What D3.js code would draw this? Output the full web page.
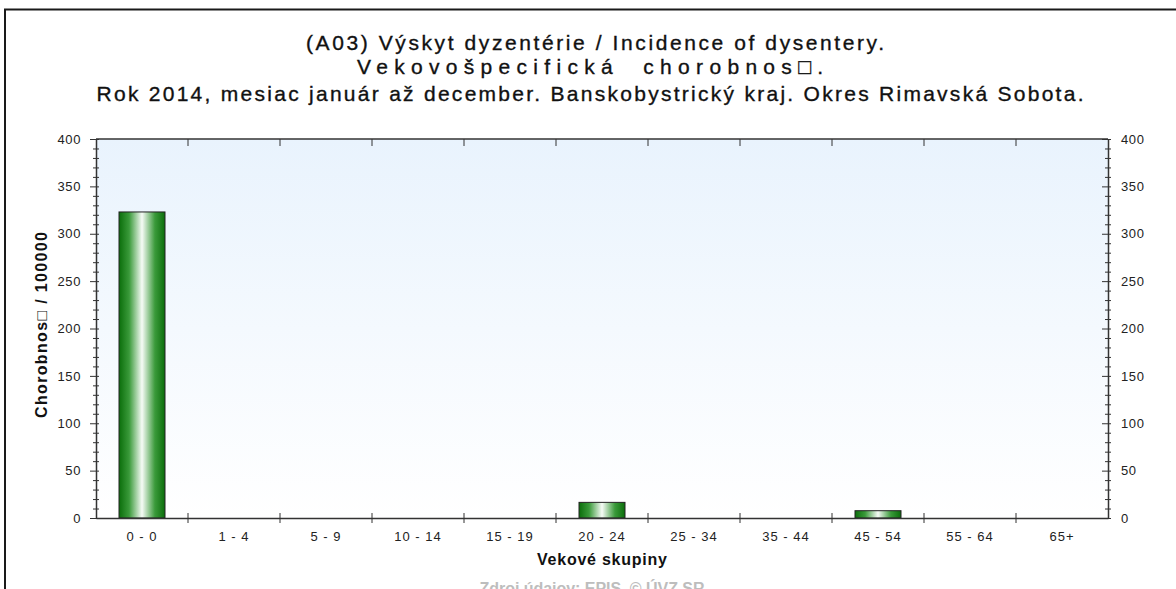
<!DOCTYPE html>
<html>
<head>
<meta charset="utf-8">
<script src="https://cdn.jsdelivr.net/npm/d3@7"></script>
<style>
  body { margin: 0; background: #fff; }
  text { font-family: "Liberation Sans", Arial, sans-serif; white-space: pre; }
</style>
</head>
<body>
<div id="chart"></div>
<script>
const titleLines = [
    "(A03) Výskyt dyzentérie / Incidence of dysentery.",
    "Vekovošpecifická  chorobnos\u25A1.",
    "Rok 2014, mesiac január až december. Banskobystrický kraj. Okres Rimavská Sobota."
];
const ageGroups = ["0 - 0", "1 - 4", "5 - 9", "10 - 14", "15 - 19", "20 - 24", "25 - 34", "35 - 44", "45 - 54", "55 - 64", "65+"];
const incidence = [323, 0, 0, 0, 0, 16.5, 0, 0, 7.7, 0, 0];
const yMajorTicks = [0, 50, 100, 150, 200, 250, 300, 350, 400];
const yLabel = "Chorobnos\u25A1 / 100000";
const xLabel = "Vekové skupiny";
const sourceText = "Zdroj údajov: EPIS, © ÚVZ SR";

const W = 1176, H = 589;
const margin = {top: 139, right: 68, bottom: 71, left: 96};
const width = W - margin.left - margin.right;
const height = H - margin.top - margin.bottom;

const root = d3.select("#chart").append("svg")
    .attr("width", W)
    .attr("height", H);

const defs = root.append("defs");
const bg = defs.append("linearGradient").attr("id", "bg")
    .attr("x1", 0).attr("y1", 0).attr("x2", 0).attr("y2", 1);
bg.append("stop").attr("offset", "0%").attr("stop-color", "#e9f3fd");
bg.append("stop").attr("offset", "100%").attr("stop-color", "#ffffff");

const barGrad = defs.append("linearGradient").attr("id", "barGrad")
    .attr("x1", 0).attr("y1", 0).attr("x2", 1).attr("y2", 0);
barGrad.append("stop").attr("offset", "0%").attr("stop-color", "#0b6e0b");
barGrad.append("stop").attr("offset", "22%").attr("stop-color", "#3a9a3a");
barGrad.append("stop").attr("offset", "50%").attr("stop-color", "#f6fbf6");
barGrad.append("stop").attr("offset", "78%").attr("stop-color", "#3a9a3a");
barGrad.append("stop").attr("offset", "100%").attr("stop-color", "#0b6e0b");

// outer frame
root.append("rect")
    .attr("x", 5).attr("y", 9.5)
    .attr("width", W + 20).attr("height", H + 20)
    .attr("fill", "none")
    .attr("stroke", "#1a1a1a")
    .attr("stroke-width", 2);

// title (widths)
const titleY = [50, 74, 101];
const titleX = [595, 590, 590];
const titleLen = [578, 466, 987];
titleLines.forEach((t, i) => {
    root.append("text")
        .attr("x", titleX[i])
        .attr("y", titleY[i])
        .attr("text-anchor", "middle")
        .attr("textLength", titleLen[i])
        .attr("lengthAdjust", "spacing")
        .style("font-size", "21px")
        .attr("fill", "#111")
        .attr("stroke", "#111")
        .attr("stroke-width", 0.35)
        .text(t);
});

const svg = root.append("g")
    .attr("transform", `translate(${margin.left},${margin.top})`);

const x = d3.scaleBand()
    .domain(ageGroups)
    .range([0, width])
    .padding(0);

const y = d3.scaleLinear()
    .domain([0, 400])
    .range([height, 0]);

svg.append("rect")
    .attr("width", width)
    .attr("height", height)
    .attr("fill", "url(#bg)");

// bars
const barW = x.bandwidth() * 0.5;
svg.selectAll(".bar")
    .data(ageGroups.map((g, i) => ({group: g, value: incidence[i]})).filter(d => d.value > 0))
    .join("rect")
    .attr("class", "bar")
    .attr("x", d => x(d.group) + (x.bandwidth() - barW) / 2)
    .attr("y", d => y(d.value))
    .attr("width", barW)
    .attr("height", d => height - y(d.value))
    .attr("fill", "url(#barGrad)")
    .attr("stroke", "#222")
    .attr("stroke-width", 1);

const axisColor = "#333";
const minorTicks = d3.range(0, 401, 10);

// left axis
const leftAxis = svg.append("g")
    .call(d3.axisLeft(y).tickValues(minorTicks).tickSize(0)
        .tickFormat(d => yMajorTicks.includes(d) ? d : ""));
leftAxis.select(".domain").attr("stroke", axisColor).attr("stroke-width", 1.5);
leftAxis.selectAll(".tick line")
    .attr("x1", d => yMajorTicks.includes(d) ? -6 : -3)
    .attr("x2", 3)
    .attr("stroke", axisColor);
leftAxis.selectAll(".tick text")
    .attr("x", -15)
    .style("font-size", "13px")
    .style("letter-spacing", "0.6px")
    .attr("fill", "#222");

// right axis
const rightAxis = svg.append("g")
    .attr("transform", `translate(${width},0)`)
    .call(d3.axisRight(y).tickValues(minorTicks).tickSize(0)
        .tickFormat(d => yMajorTicks.includes(d) ? d : ""));
rightAxis.select(".domain").attr("stroke", axisColor).attr("stroke-width", 1.5);
rightAxis.selectAll(".tick line")
    .attr("x1", d => yMajorTicks.includes(d) ? -6 : -3)
    .attr("x2", 3)
    .attr("stroke", axisColor);
rightAxis.selectAll(".tick text")
    .attr("x", 13)
    .style("font-size", "13px")
    .style("letter-spacing", "0.6px")
    .attr("fill", "#222");

// category boundary ticks
const bounds = ageGroups.slice(1).map(g => x(g));

const bottomAxis = svg.append("g")
    .attr("transform", `translate(0,${height})`)
    .call(d3.axisBottom(x).tickSize(0).tickPadding(14));
bottomAxis.select(".domain").attr("stroke", axisColor).attr("stroke-width", 1.5);
bottomAxis.selectAll(".tick text")
    .style("font-size", "13px")
    .style("letter-spacing", "1px")
    .attr("fill", "#222");
bottomAxis.selectAll(".bound")
    .data(bounds)
    .join("line")
    .attr("class", "bound")
    .attr("x1", d => d).attr("x2", d => d)
    .attr("y1", -5).attr("y2", 5)
    .attr("stroke", axisColor);

const topAxis = svg.append("g");
topAxis.append("line")
    .attr("x1", 0).attr("x2", width)
    .attr("stroke", axisColor).attr("stroke-width", 1.5);
topAxis.selectAll(".bound")
    .data(bounds)
    .join("line")
    .attr("class", "bound")
    .attr("x1", d => d).attr("x2", d => d)
    .attr("y1", 0).attr("y2", 7)
    .attr("stroke", axisColor);

// axis titles
svg.append("text")
    .attr("transform", "rotate(-90)")
    .attr("x", -186)
    .attr("y", -49)
    .attr("text-anchor", "middle")
    .attr("textLength", 186)
    .attr("lengthAdjust", "spacing")
    .style("font-size", "16px")
    .style("font-weight", "bold")
    .attr("fill", "#111")
    .text(yLabel);

svg.append("text")
    .attr("x", width / 2)
    .attr("y", height + 47)
    .attr("text-anchor", "middle")
    .attr("textLength", 130)
    .attr("lengthAdjust", "spacing")
    .style("font-size", "16px")
    .style("font-weight", "bold")
    .attr("fill", "#111")
    .text(xLabel);

root.append("text")
    .attr("x", 592)
    .attr("y", 594)
    .attr("text-anchor", "middle")
    .attr("textLength", 225)
    .attr("lengthAdjust", "spacing")
    .style("font-size", "16px")
    .style("font-weight", "bold")
    .attr("fill", "#bdbdbd")
    .text(sourceText);
</script>
</body>
</html>
